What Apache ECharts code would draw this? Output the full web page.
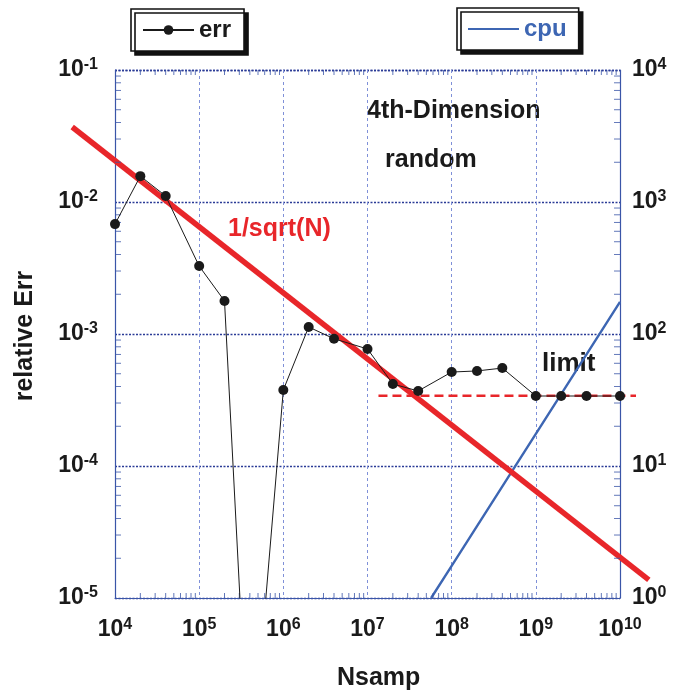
<!DOCTYPE html>
<html>
<head>
<meta charset="utf-8">
<script src="https://cdn.jsdelivr.net/npm/echarts@6/dist/echarts.min.js"></script>
<style>
  html, body { margin: 0; padding: 0; background: #fff; }
  #chart { width: 673px; height: 691px; }
</style>
</head>
<body>
<div id="chart"></div>
<script>
// Sample sizes and measured relative error
const sampleN = [1e4, 2e4, 4e4, 1e5, 2e5, 4e5, 1e6, 2e6, 4e6, 1e7, 2e7, 4e7,
                 1e8, 2e8, 4e8, 1e9, 2e9, 4e9, 1e10];
const relErr  = [6.8e-3, 1.57e-2, 1.11e-2, 3.27e-3, 1.78e-3, 3.6e-7, 3.77e-4, 1.13e-3,
                 9.2e-4, 7.7e-4, 4.18e-4, 3.7e-4, 5.15e-4, 5.25e-4, 5.52e-4,
                 3.39e-4, 3.39e-4, 3.39e-4, 3.39e-4];

// CPU time (right axis)
const cpuN    = [5.7e7, 1e8, 1e9, 1e10];
const cpuTime = [1, 1.75, 17.5, 175];

// 1/sqrt(N) reference line (runs past the frame on both ends)
const sqrtN   = [3.1e3, 2.2e10];
const sqrtErr = [0.037, 1.37e-5];

// Saturation limit
const limitN   = [1.35e7, 1.55e10];
const limitErr = [3.4e-4, 3.4e-4];

// Axis ranges
const xRange  = [1e4, 1e10];
const yRange  = [1e-5, 1e-1];
const y2Range = [1, 1e4];

// Plot box in pixels
const BOX = { left: 115, top: 70, width: 505, height: 528 };
const xDec = BOX.width / 6;   // px per decade along x
const yDec = BOX.height / 4;  // px per decade along y

// A wider hidden frame on the same scale, half a decade larger on each side,
// for the lines that overrun the plot box
const xWide = [Math.pow(10, 3.5), Math.pow(10, 10.5)];
const yWide = [Math.pow(10, -5.5), Math.pow(10, -0.5)];

const FONT = '"Liberation Sans", Arial, Helvetica, sans-serif';
const AXIS_BLUE = '#3a55a8';
const CPU_BLUE = '#3d66b3';
const RED = '#e8262a';

// Minor tick positions (2..9 within each decade)
const minorX = [];
for (let e = 4; e < 10; e++) for (let m = 2; m < 10; m++) minorX.push(m * Math.pow(10, e));
const minorY = [];
for (let e = -5; e < -1; e++) for (let m = 2; m < 10; m++) minorY.push(m * Math.pow(10, e));

const powLabel = v => {
  const e = Math.round(Math.log10(v));
  return '{b|10}{s|' + e + '}';
};
const powRich = {
  b: { fontSize: 23, fontWeight: 'bold', color: '#1a1a1a', fontFamily: FONT, lineHeight: 26, verticalAlign: 'middle' },
  s: { fontSize: 16, fontWeight: 'bold', color: '#1a1a1a', fontFamily: FONT, lineHeight: 26, verticalAlign: 'top' }
};

const tickSeries = (data, size, offset) => ({
  type: 'scatter',
  data: data,
  symbol: 'rect',
  symbolSize: size,
  symbolOffset: offset,
  itemStyle: { color: AXIS_BLUE },
  silent: true,
  clip: false,
  z: 4
});

const chart = echarts.init(document.getElementById('chart'));

const legendBase = {
  orient: 'horizontal',
  itemWidth: 51,
  itemHeight: 12,
  itemGap: 0,
  selectedMode: false,
  backgroundColor: '#fff',
  borderColor: '#111',
  borderWidth: 1.6,
  borderRadius: 0,
  shadowColor: '#111',
  shadowBlur: 0,
  shadowOffsetX: 4,
  shadowOffsetY: 4,
  textStyle: { fontSize: 24, fontWeight: 'bold', color: '#1a1a1a', fontFamily: FONT }
};

chart.setOption({
  animation: false,
  backgroundColor: '#fff',
  grid: [
    { left: BOX.left, top: BOX.top, width: BOX.width, height: BOX.height },
    { left: BOX.left - xDec / 2, top: BOX.top - yDec / 2, width: BOX.width + xDec, height: BOX.height + yDec }
  ],
  legend: [
    Object.assign({}, legendBase, { data: ['err'], left: 131, top: 9, padding: [9, 13, 9, 11] }),
    Object.assign({}, legendBase, {
      data: [{ name: 'cpu', textStyle: { color: CPU_BLUE } }],
      itemStyle: { opacity: 0 },
      left: 457, top: 8, padding: [9, 12, 9, 10]
    })
  ],
  xAxis: [
    {
      type: 'log',
      gridIndex: 0,
      min: xRange[0],
      max: xRange[1],
      axisLine: { show: true, lineStyle: { color: AXIS_BLUE, width: 1.2 } },
      axisTick: { show: false },
      axisLabel: { formatter: powLabel, rich: powRich, margin: 19 },
      splitLine: { show: true, lineStyle: { color: '#7f90d8', width: 1, type: [3, 3] } }
    },
    { type: 'log', gridIndex: 1, min: xWide[0], max: xWide[1], show: false }
  ],
  yAxis: [
    {
      type: 'log',
      gridIndex: 0,
      min: yRange[0],
      max: yRange[1],
      position: 'left',
      axisLine: { show: true, lineStyle: { color: AXIS_BLUE, width: 1.2 } },
      axisTick: { show: false },
      axisLabel: { formatter: powLabel, rich: powRich, margin: 17 },
      splitLine: { show: true, lineStyle: { color: '#2a3b96', width: 1.4, type: [2, 1.5] } }
    },
    {
      type: 'log',
      gridIndex: 0,
      min: y2Range[0],
      max: y2Range[1],
      position: 'right',
      axisLine: { show: true, lineStyle: { color: AXIS_BLUE, width: 1.2 } },
      axisTick: { show: false },
      axisLabel: { formatter: powLabel, rich: powRich, margin: 12 },
      splitLine: { show: false }
    },
    { type: 'log', gridIndex: 1, min: yWide[0], max: yWide[1], show: false }
  ],
  series: [
    {
      name: 'cpu',
      type: 'line',
      xAxisIndex: 0,
      yAxisIndex: 1,
      data: cpuN.map((n, i) => [n, cpuTime[i]]),
      symbol: 'none',
      lineStyle: { color: CPU_BLUE, width: 2.4 },
      itemStyle: { color: CPU_BLUE },
      clip: true,
      z: 2
    },
    {
      name: 'sqrt',
      type: 'line',
      xAxisIndex: 1,
      yAxisIndex: 2,
      data: sqrtN.map((n, i) => [n, sqrtErr[i]]),
      symbol: 'none',
      lineStyle: { color: RED, width: 5.5 },
      silent: true,
      z: 3
    },
    {
      name: 'limit',
      type: 'line',
      xAxisIndex: 1,
      yAxisIndex: 2,
      data: limitN.map((n, i) => [n, limitErr[i]]),
      symbol: 'none',
      lineStyle: { color: RED, width: 2.5, type: [9, 5] },
      silent: true,
      z: 3
    },
    {
      name: 'err',
      type: 'line',
      xAxisIndex: 0,
      yAxisIndex: 0,
      data: sampleN.map((n, i) => [n, relErr[i]]),
      symbol: 'circle',
      symbolSize: 10,
      showAllSymbol: true,
      lineStyle: { color: '#1a1a1a', width: 1 },
      itemStyle: { color: '#1a1a1a' },
      clip: true,
      z: 5
    },
    tickSeries(minorX.map(v => [v, yRange[0]]), [1, 5], [0, -2.5]),
    tickSeries(minorX.map(v => [v, yRange[1]]), [1, 5], [0, 2.5]),
    tickSeries(minorY.map(v => [xRange[0], v]), [6, 1], [3, 0]),
    tickSeries(minorY.map(v => [xRange[1], v]), [6, 1], [-3, 0])
  ],
  graphic: [
    { type: 'text', left: 367, top: 99, style: { text: '4th-Dimension', fontSize: 25, fontWeight: 'bold', fill: '#1a1a1a', fontFamily: FONT } },
    { type: 'text', left: 385, top: 148, style: { text: 'random', fontSize: 25, fontWeight: 'bold', fill: '#1a1a1a', fontFamily: FONT } },
    { type: 'text', left: 228, top: 217, style: { text: '1/sqrt(N)', fontSize: 25, fontWeight: 'bold', fill: RED, fontFamily: FONT } },
    { type: 'text', left: 542, top: 351, style: { text: 'limit', fontSize: 26, fontWeight: 'bold', fill: '#1a1a1a', fontFamily: FONT } },
    { type: 'text', left: 337, top: 666, style: { text: 'Nsamp', fontSize: 25, fontWeight: 'bold', fill: '#1a1a1a', fontFamily: FONT } },
    { type: 'text', x: 25, y: 336, rotation: Math.PI / 2,
      style: { text: 'relative Err', fontSize: 25, fontWeight: 'bold', fill: '#1a1a1a', fontFamily: FONT, align: 'center', verticalAlign: 'middle' } }
  ]
});
</script>
</body>
</html>
